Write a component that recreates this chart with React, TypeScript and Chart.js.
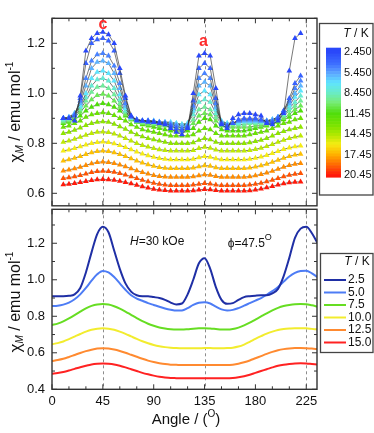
import React, { useEffect, useRef } from 'react';
import { Chart, registerables } from 'chart.js';

Chart.register(...registerables);

// ---------------- DATA ----------------
// Top panel: angle grid (deg) for the measured points
const topAngles = [10, 15, 20, 25, 30, 35, 40, 45, 50, 55, 60, 65, 70, 75, 80, 85, 90, 95, 100, 105, 110, 115, 120, 125, 130, 135, 140, 145, 150, 155, 160, 165, 170, 175, 180, 185, 190, 195, 200, 205, 210, 215, 220];
// Temperatures (K) of the top-panel series
const topTemps = [2.45, 3.575, 4.7, 5.825, 6.95, 8.075, 9.2, 10.325, 11.45, 12.575, 13.7, 14.825, 15.95, 17.075, 18.2, 19.325, 20.45];

const topRow00 = [0.90, 0.90, 0.89, 0.99, 1.17, 1.22, 1.24, 1.245, 1.235, 1.20, 1.10, 0.99, 0.91, 0.89, 0.89, 0.885, 0.885, 0.88, 0.875, 0.86, 0.845, 0.835, 0.86, 1.00, 1.15, 1.16, 1.15, 1.02, 0.875, 0.86, 0.90, 0.915, 0.92, 0.92, 0.915, 0.91, 0.88, 0.875, 0.89, 0.92, 1.09, 1.22, 1.24];
const topRow01 = [0.90, 0.90, 0.91, 0.98, 1.12, 1.20, 1.215, 1.22, 1.21, 1.17, 1.08, 0.98, 0.91, 0.895, 0.89, 0.89, 0.885, 0.88, 0.88, 0.87, 0.86, 0.85, 0.865, 0.97, 1.10, 1.12, 1.10, 0.98, 0.88, 0.87, 0.88, 0.895, 0.90, 0.90, 0.90, 0.895, 0.885, 0.885, 0.90, 0.93, 0.98, 1.04, 1.07];
const topRow02 = [0.90, 0.90, 0.915, 0.97, 1.06, 1.13, 1.155, 1.16, 1.15, 1.11, 1.04, 0.96, 0.905, 0.895, 0.89, 0.89, 0.885, 0.885, 0.88, 0.875, 0.87, 0.86, 0.87, 0.95, 1.06, 1.08, 1.06, 0.96, 0.88, 0.87, 0.88, 0.89, 0.895, 0.895, 0.895, 0.89, 0.89, 0.89, 0.905, 0.93, 0.97, 1.02, 1.05];
const topRow03 = [0.90, 0.905, 0.92, 0.96, 1.03, 1.10, 1.125, 1.13, 1.12, 1.08, 1.02, 0.95, 0.905, 0.895, 0.89, 0.89, 0.89, 0.885, 0.885, 0.88, 0.875, 0.87, 0.875, 0.94, 1.03, 1.045, 1.03, 0.945, 0.885, 0.875, 0.88, 0.89, 0.89, 0.89, 0.89, 0.89, 0.89, 0.895, 0.905, 0.93, 0.96, 1.00, 1.03];
const topRow04 = [0.90, 0.905, 0.92, 0.95, 1.00, 1.06, 1.085, 1.09, 1.08, 1.05, 0.995, 0.94, 0.905, 0.895, 0.89, 0.89, 0.89, 0.885, 0.885, 0.885, 0.88, 0.875, 0.88, 0.93, 0.995, 1.01, 0.995, 0.935, 0.89, 0.88, 0.88, 0.885, 0.89, 0.89, 0.89, 0.89, 0.89, 0.895, 0.905, 0.925, 0.95, 0.985, 1.01];
const topRow05 = [0.895, 0.90, 0.915, 0.945, 0.985, 1.03, 1.055, 1.06, 1.05, 1.02, 0.975, 0.93, 0.90, 0.89, 0.89, 0.885, 0.885, 0.885, 0.88, 0.88, 0.88, 0.875, 0.88, 0.915, 0.965, 0.975, 0.965, 0.92, 0.885, 0.88, 0.88, 0.88, 0.885, 0.885, 0.885, 0.885, 0.89, 0.895, 0.90, 0.915, 0.94, 0.965, 0.99];
const topRow06 = [0.89, 0.895, 0.91, 0.935, 0.97, 1.005, 1.025, 1.03, 1.02, 0.995, 0.96, 0.925, 0.90, 0.89, 0.885, 0.885, 0.88, 0.88, 0.875, 0.875, 0.875, 0.875, 0.875, 0.895, 0.935, 0.945, 0.935, 0.905, 0.88, 0.875, 0.875, 0.875, 0.875, 0.88, 0.88, 0.88, 0.885, 0.89, 0.895, 0.91, 0.93, 0.95, 0.97];
const topRow07 = [0.885, 0.89, 0.905, 0.925, 0.95, 0.975, 0.992, 0.997, 0.99, 0.97, 0.945, 0.915, 0.895, 0.885, 0.88, 0.875, 0.875, 0.87, 0.87, 0.865, 0.865, 0.865, 0.865, 0.88, 0.91, 0.92, 0.915, 0.89, 0.87, 0.865, 0.865, 0.865, 0.865, 0.865, 0.87, 0.87, 0.875, 0.88, 0.89, 0.90, 0.915, 0.935, 0.95];
const topRow08 = [0.88, 0.885, 0.895, 0.91, 0.93, 0.945, 0.955, 0.96, 0.955, 0.945, 0.93, 0.91, 0.895, 0.885, 0.875, 0.87, 0.865, 0.86, 0.855, 0.85, 0.85, 0.85, 0.85, 0.86, 0.885, 0.90, 0.895, 0.87, 0.855, 0.85, 0.85, 0.85, 0.85, 0.855, 0.86, 0.865, 0.87, 0.88, 0.885, 0.895, 0.905, 0.92, 0.93];
const topRow09 = [0.865, 0.87, 0.88, 0.89, 0.905, 0.915, 0.92, 0.923, 0.92, 0.912, 0.90, 0.89, 0.875, 0.865, 0.855, 0.85, 0.845, 0.84, 0.835, 0.83, 0.83, 0.83, 0.83, 0.835, 0.85, 0.86, 0.855, 0.84, 0.83, 0.83, 0.83, 0.83, 0.83, 0.835, 0.84, 0.845, 0.85, 0.86, 0.87, 0.88, 0.885, 0.895, 0.90];
const topRow10 = [0.84, 0.845, 0.853, 0.862, 0.872, 0.88, 0.885, 0.887, 0.885, 0.877, 0.867, 0.857, 0.845, 0.835, 0.827, 0.82, 0.815, 0.81, 0.805, 0.80, 0.80, 0.80, 0.80, 0.803, 0.813, 0.82, 0.815, 0.805, 0.80, 0.80, 0.80, 0.80, 0.80, 0.803, 0.808, 0.813, 0.82, 0.83, 0.84, 0.848, 0.855, 0.86, 0.865];
const topRow11 = [0.805, 0.81, 0.817, 0.825, 0.833, 0.84, 0.845, 0.846, 0.844, 0.838, 0.83, 0.82, 0.81, 0.80, 0.792, 0.786, 0.78, 0.775, 0.772, 0.77, 0.77, 0.77, 0.77, 0.772, 0.78, 0.785, 0.781, 0.774, 0.77, 0.77, 0.77, 0.77, 0.77, 0.772, 0.776, 0.781, 0.788, 0.796, 0.805, 0.813, 0.82, 0.826, 0.83];
const topRow12 = [0.77, 0.774, 0.78, 0.787, 0.794, 0.80, 0.804, 0.806, 0.804, 0.799, 0.792, 0.784, 0.775, 0.766, 0.758, 0.751, 0.745, 0.74, 0.737, 0.735, 0.735, 0.735, 0.735, 0.737, 0.743, 0.748, 0.745, 0.739, 0.735, 0.735, 0.735, 0.735, 0.735, 0.737, 0.741, 0.746, 0.752, 0.76, 0.768, 0.776, 0.782, 0.787, 0.79];
const topRow13 = [0.73, 0.735, 0.741, 0.748, 0.756, 0.763, 0.768, 0.77, 0.768, 0.763, 0.756, 0.748, 0.739, 0.73, 0.722, 0.715, 0.709, 0.704, 0.701, 0.70, 0.70, 0.70, 0.70, 0.702, 0.707, 0.711, 0.709, 0.703, 0.70, 0.70, 0.70, 0.70, 0.70, 0.702, 0.706, 0.711, 0.717, 0.725, 0.733, 0.741, 0.748, 0.754, 0.757];
const topRow14 = [0.69, 0.694, 0.699, 0.705, 0.712, 0.719, 0.724, 0.726, 0.724, 0.72, 0.714, 0.707, 0.699, 0.691, 0.684, 0.678, 0.672, 0.668, 0.666, 0.665, 0.665, 0.665, 0.665, 0.667, 0.671, 0.675, 0.673, 0.668, 0.665, 0.665, 0.665, 0.665, 0.665, 0.667, 0.671, 0.676, 0.682, 0.689, 0.697, 0.705, 0.712, 0.717, 0.72];
const topRow15 = [0.66, 0.663, 0.667, 0.672, 0.678, 0.684, 0.688, 0.689, 0.688, 0.685, 0.68, 0.674, 0.667, 0.66, 0.653, 0.647, 0.641, 0.637, 0.634, 0.632, 0.632, 0.632, 0.632, 0.634, 0.637, 0.64, 0.638, 0.634, 0.632, 0.632, 0.632, 0.632, 0.632, 0.634, 0.637, 0.641, 0.647, 0.653, 0.66, 0.667, 0.673, 0.677, 0.68];
const topRow16 = [0.635, 0.637, 0.64, 0.644, 0.648, 0.652, 0.655, 0.656, 0.655, 0.653, 0.649, 0.644, 0.639, 0.633, 0.627, 0.622, 0.617, 0.614, 0.612, 0.61, 0.61, 0.61, 0.61, 0.611, 0.614, 0.616, 0.615, 0.612, 0.61, 0.61, 0.61, 0.61, 0.61, 0.611, 0.614, 0.618, 0.623, 0.628, 0.634, 0.639, 0.643, 0.645, 0.646];
const topRows = [topRow00, topRow01, topRow02, topRow03, topRow04, topRow05, topRow06, topRow07, topRow08, topRow09, topRow10, topRow11, topRow12, topRow13, topRow14, topRow15, topRow16];

const colorbarTemps = [2.45, 5.45, 8.45, 11.45, 14.45, 17.45, 20.45];
const colorbarLabels = ['2.450', '5.450', '8.450', '11.45', '14.45', '17.45', '20.45'];

// Bottom panel (calculated curves)
const bottomAngles = [0, 5, 10, 15, 20, 25, 30, 35, 40, 45, 50, 55, 60, 65, 70, 75, 80, 85, 90, 95, 100, 105, 110, 115, 120, 125, 130, 135, 140, 145, 150, 155, 160, 165, 170, 175, 180, 185, 190, 195, 200, 205, 210, 215, 220, 225, 230, 235];
const chi2_5 = [0.91, 0.91, 0.91, 0.912, 0.92, 0.955, 1.04, 1.15, 1.25, 1.29, 1.26, 1.16, 1.06, 0.98, 0.935, 0.915, 0.91, 0.91, 0.905, 0.90, 0.89, 0.875, 0.865, 0.87, 0.92, 1.00, 1.09, 1.118, 1.06, 0.96, 0.89, 0.868, 0.872, 0.89, 0.905, 0.91, 0.913, 0.915, 0.915, 0.925, 0.95, 1.02, 1.12, 1.23, 1.28, 1.29, 1.255, 1.20];
const chi5_0 = [0.856, 0.858, 0.864, 0.875, 0.893, 0.92, 0.955, 0.995, 1.03, 1.048, 1.04, 1.015, 0.98, 0.945, 0.915, 0.897, 0.885, 0.872, 0.862, 0.852, 0.843, 0.836, 0.831, 0.832, 0.845, 0.862, 0.874, 0.877, 0.87, 0.853, 0.838, 0.832, 0.835, 0.845, 0.858, 0.872, 0.886, 0.90, 0.918, 0.938, 0.96, 0.99, 1.018, 1.038, 1.048, 1.05, 1.035, 1.014];
const chi7_5 = [0.752, 0.76, 0.772, 0.788, 0.806, 0.825, 0.843, 0.857, 0.865, 0.867, 0.864, 0.855, 0.842, 0.826, 0.808, 0.79, 0.773, 0.759, 0.748, 0.739, 0.733, 0.729, 0.727, 0.727, 0.729, 0.732, 0.734, 0.735, 0.733, 0.73, 0.727, 0.727, 0.73, 0.738, 0.75, 0.765, 0.782, 0.799, 0.816, 0.832, 0.846, 0.856, 0.862, 0.866, 0.867, 0.866, 0.86, 0.853];
const chi10_0 = [0.647, 0.653, 0.662, 0.675, 0.689, 0.703, 0.716, 0.726, 0.732, 0.734, 0.732, 0.726, 0.716, 0.704, 0.69, 0.676, 0.663, 0.652, 0.643, 0.636, 0.631, 0.628, 0.626, 0.625, 0.625, 0.625, 0.625, 0.626, 0.626, 0.625, 0.625, 0.626, 0.628, 0.634, 0.645, 0.66, 0.676, 0.691, 0.705, 0.716, 0.725, 0.73, 0.733, 0.735, 0.735, 0.734, 0.731, 0.728];
const chi12_5 = [0.555, 0.56, 0.567, 0.577, 0.588, 0.599, 0.609, 0.617, 0.623, 0.625, 0.623, 0.618, 0.61, 0.60, 0.589, 0.578, 0.567, 0.557, 0.549, 0.543, 0.538, 0.535, 0.534, 0.533, 0.533, 0.533, 0.533, 0.533, 0.533, 0.533, 0.533, 0.533, 0.535, 0.54, 0.548, 0.558, 0.57, 0.582, 0.594, 0.605, 0.614, 0.62, 0.624, 0.626, 0.626, 0.625, 0.623, 0.62];
const chi15_0 = [0.485, 0.489, 0.495, 0.503, 0.512, 0.521, 0.529, 0.536, 0.54, 0.542, 0.54, 0.536, 0.529, 0.52, 0.51, 0.50, 0.49, 0.482, 0.475, 0.469, 0.465, 0.462, 0.461, 0.46, 0.46, 0.46, 0.46, 0.46, 0.46, 0.46, 0.46, 0.46, 0.462, 0.466, 0.472, 0.48, 0.49, 0.50, 0.51, 0.52, 0.529, 0.535, 0.539, 0.542, 0.543, 0.542, 0.539, 0.536];
const bottomSeries = [chi2_5, chi5_0, chi7_5, chi10_0, chi12_5, chi15_0];
const bottomLabels = ['2.5', '5.0', '7.5', '10.0', '12.5', '15.0'];

const topYTicks = [0.6, 0.8, 1.0, 1.2];
const bottomYTicks = [0.4, 0.6, 0.8, 1.0, 1.2];
const xTicks = [0, 45, 90, 135, 180, 225];
const guideAngles = [45, 135, 225];

// ---------------- STYLE ----------------
const FONT = '"Liberation Sans", Arial, Helvetica, sans-serif';
const bottomColors = ['#1f2fa5', '#4d7cf5', '#66dd22', '#f2ec2e', '#ff8a30', '#ff2222'];

const CMAP: Array<[number, [number, number, number]]> = [
  [0.0, [42, 72, 250]],
  [0.1, [62, 112, 255]],
  [0.17, [92, 165, 255]],
  [0.25, [95, 228, 255]],
  [0.33, [105, 236, 200]],
  [0.41, [120, 236, 120]],
  [0.5, [80, 222, 10]],
  [0.6, [125, 228, 0]],
  [0.67, [175, 232, 0]],
  [0.75, [245, 236, 20]],
  [0.83, [255, 180, 0]],
  [0.91, [255, 110, 0]],
  [1.0, [255, 25, 10]],
];

function cmapColor(p: number): string {
  const q = Math.max(0, Math.min(1, p));
  for (let i = 1; i < CMAP.length; i++) {
    const [p1, c1] = CMAP[i];
    const [p0, c0] = CMAP[i - 1];
    if (q <= p1) {
      const f = (q - p0) / (p1 - p0);
      const c = c0.map((v, k) => Math.round(v + (c1[k] - v) * f));
      return `rgb(${c[0]},${c[1]},${c[2]})`;
    }
  }
  const c = CMAP[CMAP.length - 1][1];
  return `rgb(${c[0]},${c[1]},${c[2]})`;
}
const tempColor = (T: number) => cmapColor((T - 2.45) / 18);

type Seg = { t: string; size: number; dy?: number; italic?: boolean; bold?: boolean; color?: string };
function segFont(s: Seg) {
  return `${s.italic ? 'italic ' : ''}${s.bold ? 'bold ' : ''}${s.size}px ${FONT}`;
}
function drawRich(ctx: CanvasRenderingContext2D, segs: Seg[], x: number, y: number, align: 'left' | 'center') {
  ctx.textBaseline = 'middle';
  ctx.textAlign = 'left';
  const widths = segs.map((s) => {
    ctx.font = segFont(s);
    return ctx.measureText(s.t).width;
  });
  const total = widths.reduce((a, b) => a + b, 0);
  let cx = align === 'center' ? x - total / 2 : x;
  segs.forEach((s, i) => {
    ctx.font = segFont(s);
    ctx.fillStyle = s.color || '#111';
    ctx.fillText(s.t, cx, y + (s.dy || 0));
    cx += widths[i];
  });
}

function drawFrame(chart: any) {
  const { ctx, chartArea: a, scales } = chart;
  const xs = scales.x;
  const ys = scales.y;
  ctx.save();
  ctx.strokeStyle = '#333';
  ctx.lineWidth = 1.4;
  ctx.strokeRect(a.left, a.top, a.right - a.left, a.bottom - a.top);
  ctx.lineWidth = 1;
  ctx.beginPath();
  for (let v = 0; v <= xs.max; v += 15) {
    const x = xs.getPixelForValue(v);
    const len = v % 45 === 0 ? 5 : 3;
    ctx.moveTo(x, a.bottom);
    ctx.lineTo(x, a.bottom - len);
    ctx.moveTo(x, a.top);
    ctx.lineTo(x, a.top + len);
  }
  for (let i = Math.ceil(ys.min * 10 - 1e-6); i <= Math.floor(ys.max * 10 + 1e-6); i++) {
    const y = ys.getPixelForValue(i / 10);
    const len = i % 2 === 0 ? 5 : 3;
    ctx.moveTo(a.left, y);
    ctx.lineTo(a.left + len, y);
    ctx.moveTo(a.right, y);
    ctx.lineTo(a.right - len, y);
  }
  ctx.stroke();
  ctx.restore();
}

function drawGuides(chart: any) {
  const { ctx, chartArea: a, scales } = chart;
  ctx.save();
  ctx.strokeStyle = '#8c8c8c';
  ctx.lineWidth = 1;
  ctx.setLineDash([3, 3]);
  ctx.beginPath();
  guideAngles.forEach((v) => {
    const x = Math.round(scales.x.getPixelForValue(v)) + 0.5;
    ctx.moveTo(x, a.top);
    ctx.lineTo(x, a.bottom);
  });
  ctx.stroke();
  ctx.restore();
}

function drawYTitle(ctx: CanvasRenderingContext2D, cx: number, cy: number) {
  ctx.save();
  ctx.translate(cx, cy);
  ctx.rotate(-Math.PI / 2);
  drawRich(
    ctx,
    [
      { t: 'χ', size: 17 },
      { t: 'M', size: 10, dy: 4, italic: true },
      { t: ' / emu mol', size: 16 },
      { t: '-1', size: 10, dy: -6 },
    ],
    0,
    0,
    'center'
  );
  ctx.restore();
}

const topPlugin = {
  id: 'topDecor',
  beforeDatasetsDraw(chart: any) {
    drawGuides(chart);
  },
  afterDraw(chart: any) {
    const { ctx, scales } = chart;
    drawFrame(chart);
    ctx.save();
    drawYTitle(ctx, 16, 112);
    // peak labels
    drawRich(ctx, [{ t: 'c', size: 16, bold: true, color: '#ff2a2a' }], scales.x.getPixelForValue(45), 25, 'center');
    drawRich(ctx, [{ t: 'a', size: 16, bold: true, color: '#ff2a2a' }], scales.x.getPixelForValue(134), 42, 'center');
    // colour-bar legend
    ctx.strokeStyle = '#444';
    ctx.lineWidth = 1.3;
    ctx.strokeRect(319.5, 23.5, 53.5, 171.5);
    drawRich(ctx, [{ t: 'T', size: 12, italic: true }, { t: ' / K', size: 12 }], 356, 34, 'center');
    const yTop = 52;
    const ySpan = 123;
    const barTop = 47.7;
    const barBot = 177;
    const n = 44;
    const h = (barBot - barTop) / n;
    for (let i = 0; i < n; i++) {
      const ym = barTop + (i + 0.5) * h;
      ctx.fillStyle = cmapColor((ym - yTop) / ySpan);
      ctx.fillRect(326, barTop + i * h, 15, h + 0.6);
    }
    colorbarTemps.forEach((T, i) => {
      const y = yTop + ((T - 2.45) / 18) * ySpan;
      drawRich(ctx, [{ t: colorbarLabels[i], size: 11 }], 344, y, 'left');
    });
    ctx.restore();
  },
};

const bottomPlugin = {
  id: 'bottomDecor',
  beforeDatasetsDraw(chart: any) {
    drawGuides(chart);
  },
  afterDraw(chart: any) {
    const { ctx, scales } = chart;
    drawFrame(chart);
    ctx.save();
    drawYTitle(ctx, 16, 302);
    drawRich(
      ctx,
      [
        { t: 'Angle / (', size: 15 },
        { t: 'O', size: 10, dy: -6 },
        { t: ')', size: 15 },
      ],
      186,
      420,
      'center'
    );
    drawRich(ctx, [{ t: 'H', size: 12, italic: true }, { t: '=30 kOe', size: 12 }], scales.x.getPixelForValue(69), scales.y.getPixelForValue(1.21), 'left');
    drawRich(ctx, [{ t: 'ϕ=47.5', size: 12 }, { t: 'O', size: 9, dy: -6 }], scales.x.getPixelForValue(155.5), scales.y.getPixelForValue(1.2), 'left');
    // legend
    ctx.strokeStyle = '#444';
    ctx.lineWidth = 1.3;
    ctx.strokeRect(320.5, 253.5, 52.5, 99);
    drawRich(ctx, [{ t: 'T', size: 12, italic: true }, { t: ' / K', size: 12 }], 357, 262, 'center');
    bottomLabels.forEach((lab, i) => {
      const y = 280 + i * 12.5;
      ctx.strokeStyle = bottomColors[i];
      ctx.lineWidth = 2;
      ctx.beginPath();
      ctx.moveTo(324, y);
      ctx.lineTo(346, y);
      ctx.stroke();
      drawRich(ctx, [{ t: lab, size: 12 }], 348, y, 'left');
    });
    ctx.restore();
  },
};

function yAxis(min: number, max: number, ticks: number[]) {
  return {
    type: 'linear' as const,
    min,
    max,
    grid: { display: false, drawTicks: false },
    border: { display: false },
    afterBuildTicks: (s: any) => {
      s.ticks = ticks.map((v) => ({ value: v }));
    },
    afterFit: (s: any) => {
      s.width = 52;
    },
    ticks: {
      font: { family: FONT, size: 13 },
      color: '#111',
      padding: 7,
      callback: (v: any) => Number(v).toFixed(1),
    },
  };
}

export default function App() {
  const topRef = useRef<HTMLCanvasElement>(null);
  const botRef = useRef<HTMLCanvasElement>(null);

  useEffect(() => {
    const top = new Chart(topRef.current as HTMLCanvasElement, {
      type: 'line',
      data: {
        datasets: topRows.map((row, i) => ({
          label: String(topTemps[i]),
          data: row.map((v, k) => ({ x: topAngles[k], y: v })),
          borderColor: 'rgba(55,55,55,0.85)',
          borderWidth: 0.8,
          pointStyle: 'triangle',
          pointRadius: 3.3,
          pointBorderWidth: 0,
          pointBackgroundColor: tempColor(topTemps[i]),
          pointBorderColor: tempColor(topTemps[i]),
          tension: 0,
          fill: false,
        })),
      },
      options: {
        animation: false,
        responsive: false,
        devicePixelRatio: 1,
        layout: { padding: { left: 0, right: 57, top: 18.3, bottom: 433 - 205.8 } },
        plugins: { legend: { display: false }, tooltip: { enabled: false } },
        scales: {
          x: { type: 'linear', min: 0, max: 234.5, display: false },
          y: yAxis(0.55, 1.3, topYTicks),
        },
      } as any,
      plugins: [topPlugin],
    });

    const bot = new Chart(botRef.current as HTMLCanvasElement, {
      type: 'line',
      data: {
        datasets: bottomSeries.map((s, i) => ({
          label: bottomLabels[i],
          data: s.map((v, k) => ({ x: bottomAngles[k], y: v })),
          borderColor: bottomColors[i],
          borderWidth: 2,
          pointRadius: 0,
          cubicInterpolationMode: 'monotone',
          fill: false,
        })),
      },
      options: {
        animation: false,
        responsive: false,
        devicePixelRatio: 1,
        layout: { padding: { left: 0, right: 57, top: 209.3, bottom: 433 - 389.3 - 30 } },
        plugins: { legend: { display: false }, tooltip: { enabled: false } },
        scales: {
          x: {
            type: 'linear',
            min: 0,
            max: 234.5,
            grid: { display: false, drawTicks: false },
            border: { display: false },
            afterBuildTicks: (s: any) => {
              s.ticks = xTicks.map((v) => ({ value: v }));
            },
            afterFit: (s: any) => {
              s.height = 30;
            },
            ticks: {
              font: { family: FONT, size: 13 },
              color: '#111',
              padding: 4,
              maxRotation: 0,
              autoSkip: false,
              callback: (v: any) => String(v),
            },
          },
          y: yAxis(0.4, 1.386, bottomYTicks),
        },
      } as any,
      plugins: [bottomPlugin],
    });

    return () => {
      top.destroy();
      bot.destroy();
    };
  }, []);

  const cs: React.CSSProperties = { position: 'absolute', left: 0, top: 0, width: 374, height: 433 };
  return (
    <div style={{ position: 'fixed', left: 0, top: 0, width: 374, height: 433, background: '#fff' }}>
      <canvas ref={topRef} width={374} height={433} style={cs} />
      <canvas ref={botRef} width={374} height={433} style={cs} />
    </div>
  );
}
